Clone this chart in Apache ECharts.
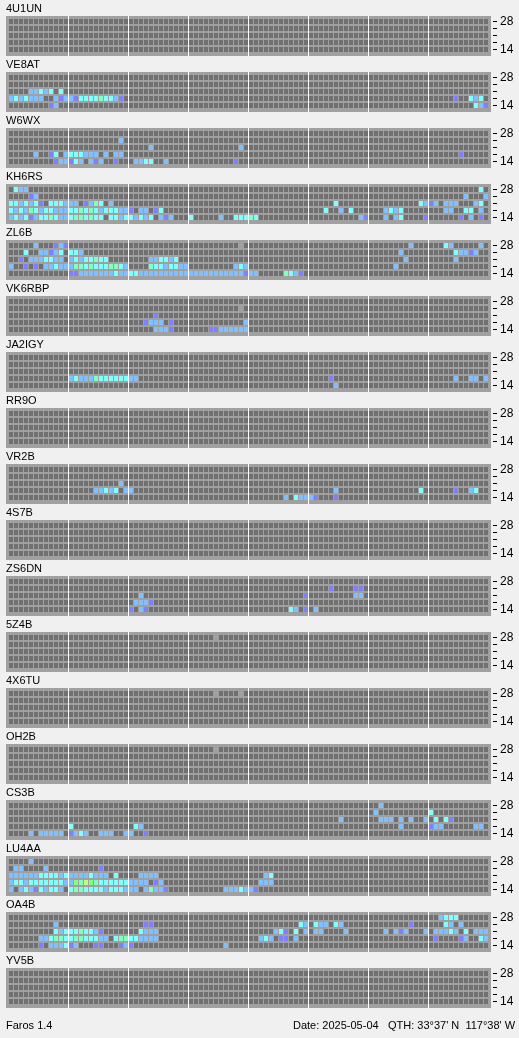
<!DOCTYPE html>
<html><head><meta charset="utf-8">
<script src="https://cdn.jsdelivr.net/npm/echarts@6/dist/echarts.min.js"></script>
<style>html,body{margin:0;padding:0;background:#f0f0f0;}#c{width:519px;height:1038px;}</style>
</head><body><div id="c"></div>
<script>
// Beacons (top to bottom)
const BEACONS = ['4U1UN','VE8AT','W6WX','KH6RS','ZL6B','VK6RBP','JA2IGY','RR9O','VR2B','4S7B','ZS6DN','5Z4B','4X6TU','OH2B','CS3B','LU4AA','OA4B','YV5B'];
// Bands, top row first (MHz)
const BANDS = ['28','24','21','18','14'];
const BAND_LABELS_SHOWN = ['28','14'];
// 96 quarter-hour slots
const SLOTS = Array.from({length:96}, (_, k) => String(Math.floor(k/4)).padStart(2,'0') + ':' + String((k%4)*15).padStart(2,'0'));
const HOUR_SEPARATORS = [12,24,36,48,60,72,84];
// level: 0 = grey (heard, no SNR), 1 purple, 2 blue, 3 cyan, 4 aquamarine, 5 green, 6 yellow-green
const LEVEL_COLORS = {'-1':'#707070','0':'#a0a0a0','1':'#8080ff','2':'#80c0ff','3':'#80ffff','4':'#80ffc0','5':'#80ff80','6':'#c0ff80'};

// Each beacon: rows [28, 24, 21, 18, 14], each a list of [slot, level]
const B_4U1UN = [[],[],[],[],[]];
const B_VE8AT = [[],[],
 [[4,2],[5,2],[6,3],[7,2],[8,3],[10,3]],
 [[0,2],[1,3],[2,2],[3,3],[4,2],[5,2],[6,2],[9,2],[10,1],[11,2],[12,2],[13,1],[14,3],[15,3],[16,3],[17,3],[18,4],[19,3],[20,3],[21,2],[22,1],[89,1],[92,3],[93,2],[94,3]],
 [[8,1],[9,2],[93,3],[94,2],[95,1]]];
const B_W6WX = [[],
 [[22,2]],
 [[28,2],[46,2]],
 [[5,2],[8,1],[9,3],[11,2],[12,3],[13,3],[14,3],[15,2],[16,2],[17,2],[19,2],[21,2],[22,2],[90,1]],
 [[9,1],[10,2],[11,2],[12,1],[13,3],[14,2],[16,2],[17,1],[18,2],[21,1],[25,2],[26,2],[27,3],[28,3],[31,2],[45,1]]];
const B_KH6RS = [
 [[1,3],[2,2],[3,2],[94,3]],
 [[4,1],[5,2],[91,2],[95,2]],
 [[0,3],[1,3],[2,2],[3,3],[4,2],[5,3],[6,1],[8,3],[9,3],[10,3],[11,2],[12,2],[13,2],[15,1],[16,2],[17,4],[18,3],[20,2],[65,3],[82,3],[83,2],[84,1],[85,2],[87,2],[88,2],[89,2],[93,2],[94,3]],
 [[0,3],[1,2],[2,3],[3,2],[4,4],[5,3],[6,2],[7,3],[8,3],[9,2],[10,2],[11,2],[12,3],[13,3],[14,4],[15,3],[16,4],[17,3],[18,2],[19,3],[20,3],[21,3],[22,2],[23,2],[24,1],[26,2],[27,2],[29,1],[30,3],[63,3],[66,2],[68,3],[75,2],[76,3],[77,2],[78,3],[87,2],[88,2],[91,3],[92,3],[94,2]],
 [[0,2],[1,3],[2,2],[3,3],[4,1],[5,2],[6,3],[7,3],[8,4],[9,3],[10,2],[11,2],[12,3],[13,4],[14,4],[15,3],[16,4],[17,3],[18,3],[20,3],[21,3],[22,2],[23,3],[24,3],[25,2],[26,3],[27,2],[28,3],[30,2],[31,1],[32,2],[36,3],[42,2],[45,3],[46,3],[47,3],[48,4],[49,3],[70,2],[71,1],[75,2],[77,2],[78,3],[83,1],[90,1],[92,2],[94,1]]];
const B_ZL6B = [
 [[5,2],[9,1],[10,2],[11,1],[46,0],[80,2],[87,3],[88,2],[94,2]],
 [[3,3],[6,2],[7,2],[8,1],[9,2],[10,3],[12,3],[13,3],[14,2],[78,2],[89,3],[90,2],[91,2],[92,1],[93,2]],
 [[2,1],[4,2],[5,2],[6,2],[7,3],[8,3],[9,2],[10,2],[12,2],[13,3],[14,2],[15,3],[16,3],[17,4],[18,3],[19,3],[28,2],[29,2],[30,3],[31,3],[32,2],[33,3],[79,2],[89,2]],
 [[0,2],[3,1],[5,1],[7,2],[8,2],[9,3],[10,2],[11,2],[12,2],[13,4],[14,4],[15,3],[16,4],[17,3],[18,3],[19,3],[20,4],[21,4],[22,3],[23,2],[28,4],[29,3],[30,3],[31,2],[32,3],[33,3],[34,2],[35,2],[45,2],[46,3],[47,2],[77,2]],
 [[12,1],[13,1],[14,2],[15,2],[16,2],[17,2],[18,2],[19,2],[20,2],[21,3],[22,2],[23,2],[24,3],[25,3],[26,2],[27,2],[28,2],[29,2],[30,2],[31,2],[32,2],[33,2],[34,2],[35,2],[36,2],[37,2],[38,2],[39,2],[40,2],[41,2],[42,2],[43,2],[44,2],[45,2],[46,2],[47,1],[48,2],[49,2],[55,4],[56,3],[57,2],[58,1]]];
const B_VK6RBP = [[],
 [[46,0]],
 [[29,1]],
 [[27,1],[28,2],[29,2],[30,2],[32,1],[47,2]],
 [[29,2],[30,2],[31,2],[32,1],[40,1],[41,1],[42,2],[43,2],[44,2],[45,2],[46,2],[47,2]]];
const B_JA2IGY = [[],[],[],
 [[12,2],[13,3],[14,2],[15,2],[16,2],[17,4],[18,3],[19,3],[20,3],[21,3],[22,3],[23,3],[24,2],[25,2],[64,1],[89,2],[92,2],[93,2],[95,2]],
 [[65,2]]];
const B_RR9O = [[],[],[],[],[]];
const B_VR2B = [[],[],
 [[22,2]],
 [[17,2],[18,2],[19,3],[20,2],[21,3],[23,2],[24,2],[65,2],[82,3],[89,1],[92,2],[93,3]],
 [[55,2],[57,3],[58,2],[59,2],[60,2],[61,1],[65,1]]];
const B_4S7B = [[],[],[],[],[]];
const B_ZS6DN = [[],
 [[64,1],[69,1],[70,1]],
 [[26,2],[59,1],[69,2],[70,2]],
 [[25,2],[26,2],[27,2],[28,1]],
 [[24,1],[26,2],[27,1],[56,3],[57,2],[59,1],[61,2]]];
const B_5Z4B = [[[41,0]],[],[],[],[]];
const B_4X6TU = [[[41,0],[46,0]],[],[],[],[]];
const B_OH2B = [[[41,0]],[],[],[],[]];
const B_CS3B = [
 [[74,2]],
 [[73,2],[84,3]],
 [[66,2],[74,2],[75,2],[76,2],[78,2],[80,2],[83,2],[85,3],[87,3],[88,1]],
 [[12,3],[25,3],[26,2],[78,2],[84,1],[85,2],[86,2],[93,2],[94,2]],
 [[4,2],[6,2],[7,2],[8,2],[9,2],[10,2],[12,1],[13,2],[14,3],[15,2],[18,2],[19,2],[20,2],[23,2],[24,2],[27,1]]];
const B_LU4AA = [
 [[4,2]],
 [[1,2],[2,2],[7,2],[18,1]],
 [[0,2],[1,2],[2,2],[3,2],[4,2],[5,2],[6,3],[7,3],[8,3],[9,3],[10,2],[11,3],[12,2],[13,2],[14,2],[15,2],[16,3],[17,2],[18,2],[19,2],[21,3],[26,2],[27,2],[28,2],[29,2],[51,2],[52,3]],
 [[0,2],[1,3],[2,3],[3,2],[4,3],[5,3],[6,3],[7,3],[8,3],[9,3],[10,3],[11,2],[12,2],[13,5],[14,4],[15,6],[16,5],[17,4],[18,3],[19,3],[20,3],[21,3],[22,3],[23,3],[24,2],[25,2],[26,2],[27,2],[29,1],[30,2],[50,2],[51,2],[52,2]],
 [[0,2],[2,2],[3,3],[4,2],[5,1],[6,3],[7,2],[8,3],[9,3],[10,2],[12,3],[13,4],[14,4],[15,3],[16,3],[17,3],[18,3],[19,2],[20,3],[21,3],[22,3],[23,2],[24,2],[25,2],[27,2],[28,4],[29,2],[30,2],[31,1],[43,2],[44,2],[45,2],[46,3],[47,2],[48,2],[49,1]]];
const B_OA4B = [
 [[86,2],[87,3],[88,3],[89,3]],
 [[9,2],[27,1],[28,1],[58,3],[59,2],[61,3],[62,2],[63,2],[65,3],[66,2],[80,1],[87,3],[88,2],[90,2]],
 [[9,3],[10,2],[11,3],[12,3],[13,3],[14,4],[15,3],[16,3],[17,2],[18,1],[26,3],[27,2],[28,2],[29,2],[53,2],[54,3],[55,1],[57,3],[59,2],[61,2],[62,2],[67,2],[75,2],[77,2],[78,1],[79,2],[83,2],[85,2],[86,2],[87,2],[88,3],[89,2],[91,3],[93,2],[94,2],[95,2]],
 [[6,2],[7,2],[8,3],[9,4],[10,4],[11,3],[12,3],[13,4],[14,4],[15,3],[16,3],[17,3],[18,2],[19,2],[21,3],[22,4],[23,4],[24,3],[25,3],[26,2],[27,2],[28,2],[29,2],[50,2],[51,3],[52,2],[54,1],[55,1],[57,2],[85,1],[90,1],[91,2],[94,3],[95,2]],
 [[6,1],[8,2],[9,2],[10,2],[11,3],[12,1],[13,2],[17,1],[18,1],[22,1],[23,2],[24,1],[43,2]]];
const B_YV5B = [[],[],[],[],[]];

const BEACON_ROWS = [B_4U1UN,B_VE8AT,B_W6WX,B_KH6RS,B_ZL6B,B_VK6RBP,B_JA2IGY,B_RR9O,B_VR2B,B_4S7B,B_ZS6DN,B_5Z4B,B_4X6TU,B_OH2B,B_CS3B,B_LU4AA,B_OA4B,B_YV5B];

const FOOTER_APP = 'Faros 1.4';
const FOOTER_DATE = 'Date: 2025-05-04';
const FOOTER_QTH = "QTH: 33°37' N  117°38' W";

// ---- layout ----
const PANEL_TOP = 16, PANEL_PITCH = 56;
const FONT = '"Liberation Sans", Arial, sans-serif';

function cellData(rows) {
  const out = [];
  for (let r = 0; r < BANDS.length; r++) {
    const m = {};
    rows[r].forEach(([c, lv]) => { m[c] = lv; });
    for (let c = 0; c < SLOTS.length; c++) out.push([c, r, (c in m) ? m[c] : -1]);
  }
  return out;
}
function renderFrame(params, api) {
  const cs = params.coordSys;
  return {type:'rect', shape:{x:cs.x-2, y:cs.y-2, width:cs.width+5, height:cs.height+5}, style:{fill:'#a0a0a0'}};
}
function renderCell(params, api) {
  const p = api.coord([api.value(0), api.value(1)]);
  const s = api.size([1, 1]);
  return {type:'rect', shape:{x:p[0]-s[0]/2+1, y:p[1]-s[1]/2+1, width:s[0]-1, height:s[1]-2},
          style:{fill: LEVEL_COLORS[String(api.value(2))]}};
}
function renderSep(params, api) {
  const cs = params.coordSys;
  const p = api.coord([api.value(0), 0]);
  const s = api.size([1, 1]);
  return {type:'rect', shape:{x:p[0]-s[0]/2, y:cs.y-2, width:1, height:cs.height+5}, style:{fill:'#ffffff'}};
}

const grids = [], xAxes = [], yAxes = [], series = [], graphics = [];
BEACONS.forEach((name, i) => {
  const T = PANEL_TOP + PANEL_PITCH * i;
  grids.push({left:8, top:T+2, width:480, height:35, outerBoundsMode:'none', containLabel:false, show:false});
  xAxes.push({type:'category', gridIndex:i, data:SLOTS, show:false, boundaryGap:true});
  yAxes.push({type:'category', gridIndex:i, data:BANDS, inverse:true, position:'right', offset:5,
    axisLine:{show:false}, splitLine:{show:false},
    axisTick:{show:true, alignWithLabel:true, length:4, lineStyle:{color:'#000', width:1}},
    axisLabel:{show:true, interval:0, margin:7, fontSize:12, fontFamily:FONT, color:'#000', padding:[3,0,0,0],
      formatter: v => BAND_LABELS_SHOWN.includes(v) ? v : ''}});
  series.push({type:'custom', xAxisIndex:i, yAxisIndex:i, data:[[0,0]], renderItem:renderFrame, silent:true, clip:false, z:1});
  series.push({type:'custom', xAxisIndex:i, yAxisIndex:i, data:cellData(BEACON_ROWS[i]), renderItem:renderCell, silent:true, clip:false, z:2});
  series.push({type:'custom', xAxisIndex:i, yAxisIndex:i, data:HOUR_SEPARATORS.map(c => [c, 0]), renderItem:renderSep, silent:true, clip:false, z:3});
  graphics.push({type:'text', x:6, y:T-7, style:{text:name, font:'11px ' + FONT, fill:'#000', align:'left', verticalAlign:'middle'}});
});
graphics.push({type:'text', x:6, y:1026, style:{text:FOOTER_APP, font:'11px ' + FONT, fill:'#000', align:'left', verticalAlign:'middle'}});
graphics.push({type:'text', x:293, y:1026, style:{text:FOOTER_DATE, font:'11px ' + FONT, fill:'#000', align:'left', verticalAlign:'middle'}});
graphics.push({type:'text', x:388, y:1026, style:{text:FOOTER_QTH, font:'11px ' + FONT, fill:'#000', align:'left', verticalAlign:'middle'}});

const chart = echarts.init(document.getElementById('c'), null, {renderer:'canvas'});
chart.setOption({
  backgroundColor:'#f0f0f0', animation:false,
  grid:grids, xAxis:xAxes, yAxis:yAxes, series:series, graphic:graphics
});
</script></body></html>
